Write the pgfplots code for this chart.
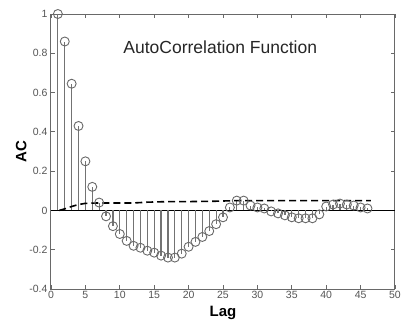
\documentclass[border=0pt]{standalone}
\usepackage{fontspec}
\setmainfont{Liberation Sans}
\usepackage{pgfplots}
\pgfplotsset{compat=1.18}
\definecolor{framegray}{RGB}{105,105,105}
\definecolor{stemgray}{RGB}{115,115,115}
\definecolor{labgray}{RGB}{85,85,85}
\begin{document}
\begin{tikzpicture}
\useasboundingbox (-51pt,-38pt) rectangle (350pt,289pt);
\begin{axis}[
  scale only axis,
  width=344pt, height=275pt,
  xmin=0, xmax=50, ymin=-0.4, ymax=1,
  xtick={0,5,...,50},
  ytick={-0.4,-0.2,0,0.2,0.4,0.6,0.8,1},
  yticklabels={-0.4,-0.2,0,0.2,0.4,0.6,0.8,1},
  xticklabels={0,5,10,15,20,25,30,35,40,45,50},
  tick align=inside,
  major tick length=4pt,
  axis line style={framegray, line width=1pt},
  every tick/.style={framegray, line width=0.8pt},
  tick label style={font=\fontsize{10.5}{12}\selectfont, text=labgray},
  xticklabel style={yshift=1pt},
  xlabel={\textbf{Lag}},
  ylabel={\textbf{AC}},
  xlabel style={font=\fontsize{15}{17}\selectfont, yshift=0pt},
  ylabel style={font=\fontsize{15}{17}\selectfont, yshift=-4pt},
  clip=false,
]
\addplot[black, line width=0.8pt, forget plot] coordinates {(0,0) (50,0)};
\addplot[ycomb, stemgray, line width=1.2pt, mark=o, mark size=4.5pt,
  mark options={solid, framegray, line width=0.9pt, fill=none}] coordinates {
(1,1.0) (2,0.86) (3,0.645) (4,0.43) (5,0.25) (6,0.12) (7,0.04) (8,-0.03)
(9,-0.08) (10,-0.12) (11,-0.155) (12,-0.18) (13,-0.19) (14,-0.205) (15,-0.215)
(16,-0.23) (17,-0.24) (18,-0.24) (19,-0.22) (20,-0.185) (21,-0.16) (22,-0.135)
(23,-0.105) (24,-0.07) (25,-0.035) (26,0.015) (27,0.05) (28,0.05) (29,0.025)
(30,0.015) (31,0.01) (32,-0.005) (33,-0.015) (34,-0.025) (35,-0.035) (36,-0.04)
(37,-0.04) (38,-0.04) (39,-0.02) (40,0.02) (41,0.03) (42,0.035) (43,0.03)
(44,0.025) (45,0.015) (46,0.01)
};
\addplot[black, dashed, line width=1.6pt, dash pattern=on 7pt off 4pt] coordinates {
(1.2,0) (2,0.008) (3,0.02) (4,0.03) (5,0.036) (7,0.038) (10,0.038) (12,0.038)
(14,0.042) (17,0.045) (20,0.045) (24,0.047) (27,0.05) (30,0.05) (40,0.05) (46.5,0.05)
};
\node[font=\fontsize{17.5}{20}\selectfont, text=black!85] at (axis cs:24.6,0.83) {AutoCorrelation Function};
\end{axis}
\end{tikzpicture}
\end{document}
